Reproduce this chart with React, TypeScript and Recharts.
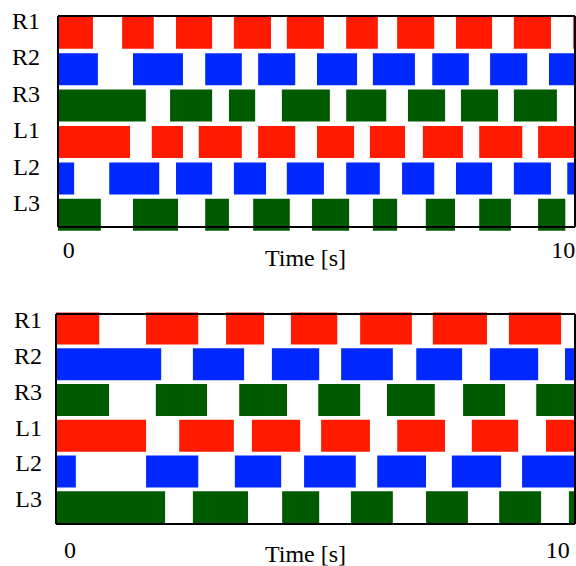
import React from 'react';
import { BarChart, Bar, Cell, XAxis, YAxis, Label } from 'recharts';

const FONT = '"Liberation Serif", "Times New Roman", serif';
const FS = 24;

const rowNames = ['R1', 'R2', 'R3', 'L1', 'L2', 'L3'];
const rowColors = ['#ff1a00', '#0028ff', '#005a00', '#ff1a00', '#0028ff', '#005a00'];
const timeTicks = [0, 10];

// stance phases [start, end] in seconds, upper diagram
const topR1 = [[-0.3, 0.49], [1.08, 1.72], [2.17, 2.9], [3.34, 4.09], [4.41, 5.16], [5.61, 6.25], [6.64, 7.39], [7.83, 8.56], [9.0, 9.75], [10.2, 10.9]];
const topR2 = [[-0.3, 0.59], [1.3, 2.31], [2.76, 3.5], [3.83, 4.58], [5.02, 5.83], [6.15, 7.0], [7.35, 8.09], [8.52, 9.27], [9.71, 10.9]];
const topR3 = [[-0.3, 1.56], [2.05, 2.9], [3.24, 3.77], [4.31, 5.28], [5.61, 6.42], [6.86, 7.61], [7.93, 8.68], [9.0, 9.87]];
const topL1 = [[-0.3, 1.24], [1.68, 2.31], [2.63, 3.5], [3.83, 4.58], [5.02, 5.77], [6.09, 6.8], [7.16, 7.97], [8.3, 9.17], [9.49, 10.9]];
const topL2 = [[-0.3, 0.11], [0.82, 1.83], [2.17, 2.9], [3.34, 3.99], [4.41, 5.16], [5.61, 6.29], [6.74, 7.39], [7.83, 8.56], [9.0, 9.75], [10.08, 10.9]];
const topL3 = [[-0.3, 0.65], [1.3, 2.21], [2.76, 3.24], [3.73, 4.47], [4.92, 5.67], [6.15, 6.64], [7.22, 7.81], [8.3, 8.94], [9.49, 10.04]];

// lower diagram
const botR1 = [[-0.4, 0.6], [1.56, 2.63], [3.2, 3.98], [4.53, 5.48], [5.95, 7.01], [7.44, 8.55], [9.0, 10.07]];
const botR2 = [[-0.4, 1.87], [2.52, 3.57], [4.14, 5.11], [5.56, 6.62], [7.1, 8.04], [8.61, 9.6], [10.15, 11]];
const botR3 = [[-0.4, 0.8], [1.76, 2.81], [3.47, 4.45], [5.09, 5.95], [6.5, 7.48], [8.06, 8.92], [9.56, 11]];
const botL1 = [[-0.4, 1.56], [2.24, 3.36], [3.73, 4.72], [5.15, 6.15], [6.71, 7.69], [8.24, 9.19], [9.76, 11]];
const botL2 = [[-0.4, 0.12], [1.56, 2.63], [3.38, 4.33], [4.8, 5.86], [6.3, 7.3], [7.83, 8.84], [9.27, 11]];
const botL3 = [[-0.4, 1.95], [2.52, 3.65], [4.35, 5.11], [5.76, 6.62], [7.3, 8.16], [8.8, 9.66], [10.23, 11]];

const topRows = [topR1, topR2, topR3, topL1, topL2, topL3];
const botRows = [botR1, botR2, botR3, botL1, botL2, botL3];

// one record per leg, phase k stored under p{k} as a [start, end] range
const toData = (rows: number[][][]) =>
  rowNames.map((name, r) => {
    const rec: any = { name };
    rows[r].forEach((iv, k) => {
      rec[`p${k}`] = iv;
    });
    return rec;
  });

interface PanelProps {
  rows: number[][][];
  height: number;
  top: number;
  yWidth: number;
  xHeight: number;
  xDomain: [number, number];
  padTop: number;
  padBottom: number;
  rowLabelGap: number;
  rowLabelShift: number;
  timeTickGap: number;
  titleOffset: number;
  titleShift: number;
}

function GaitPanel(p: PanelProps) {
  const data = toData(p.rows);
  const nPhases = Math.max(...p.rows.map((r) => r.length));
  const RowTick = (props: any) => (
    <text
      x={props.x}
      y={props.y + p.rowLabelShift}
      textAnchor="end"
      dominantBaseline="central"
      fontSize={FS}
      fontFamily={FONT}
      fill="#000"
    >
      {props.payload.value}
    </text>
  );

  return (
    <BarChart
      width={576}
      height={p.height}
      data={data}
      layout="vertical"
      barSize={32}
      barGap={-32}
      margin={{ top: p.top, right: 0, bottom: 0, left: 0 }}
    >
      <XAxis
        xAxisId="b"
        type="number"
        domain={p.xDomain}
        allowDataOverflow
        ticks={timeTicks}
        interval={0}
        tickSize={0}
        tickMargin={p.timeTickGap}
        tickLine={false}
        height={p.xHeight}
        axisLine={{ stroke: '#000', strokeWidth: 2 }}
        tick={{ fontSize: FS, fill: '#000', fontFamily: FONT }}
      >
        <Label
          value="Time [s]"
          position="insideTop"
          offset={p.titleOffset}
          dx={p.titleShift}
          style={{ fontSize: FS, fill: '#000', fontFamily: FONT }}
        />
      </XAxis>
      <XAxis
        xAxisId="t"
        orientation="top"
        type="number"
        domain={p.xDomain}
        allowDataOverflow
        height={1}
        tick={false}
        tickLine={false}
        axisLine={{ stroke: '#000', strokeWidth: 2 }}
      />
      <YAxis
        yAxisId="l"
        type="category"
        dataKey="name"
        allowDataOverflow
        padding={{ top: p.padTop, bottom: p.padBottom }}
        width={p.yWidth}
        tickSize={0}
        tickMargin={p.rowLabelGap}
        tickLine={false}
        axisLine={{ stroke: '#000', strokeWidth: 2 }}
        tick={RowTick}
      />
      <YAxis
        yAxisId="r"
        orientation="right"
        type="category"
        dataKey="name"
        width={1}
        tick={false}
        tickLine={false}
        axisLine={{ stroke: '#000', strokeWidth: 2 }}
      />
      {Array.from({ length: nPhases }, (_, k) => (
        <Bar key={k} dataKey={`p${k}`} xAxisId="b" yAxisId="l" isAnimationActive={false}>
          {data.map((d, r) => (
            <Cell key={d.name} fill={rowColors[r]} />
          ))}
        </Bar>
      ))}
    </BarChart>
  );
}

export default function App() {
  return (
    <div style={{ width: 576, height: 566, background: '#fff', fontFamily: FONT }}>
      <style>{'body{margin:0;}'}</style>
      <GaitPanel
        rows={topRows}
        height={283}
        top={15}
        yWidth={58}
        xHeight={56}
        xDomain={[-0.216, 10.236]}
        padTop={-1.2}
        padBottom={-6.2}
        rowLabelGap={18}
        rowLabelShift={-12}
        timeTickGap={14}
        titleOffset={22}
        titleShift={-11}
      />
      <GaitPanel
        rows={botRows}
        height={283}
        top={30}
        yWidth={56}
        xHeight={42}
        xDomain={[-0.287, 10.355]}
        padTop={-3.6}
        padBottom={-0.9}
        rowLabelGap={14}
        rowLabelShift={-8}
        timeTickGap={17}
        titleOffset={21}
        titleShift={-10}
      />
    </div>
  );
}
